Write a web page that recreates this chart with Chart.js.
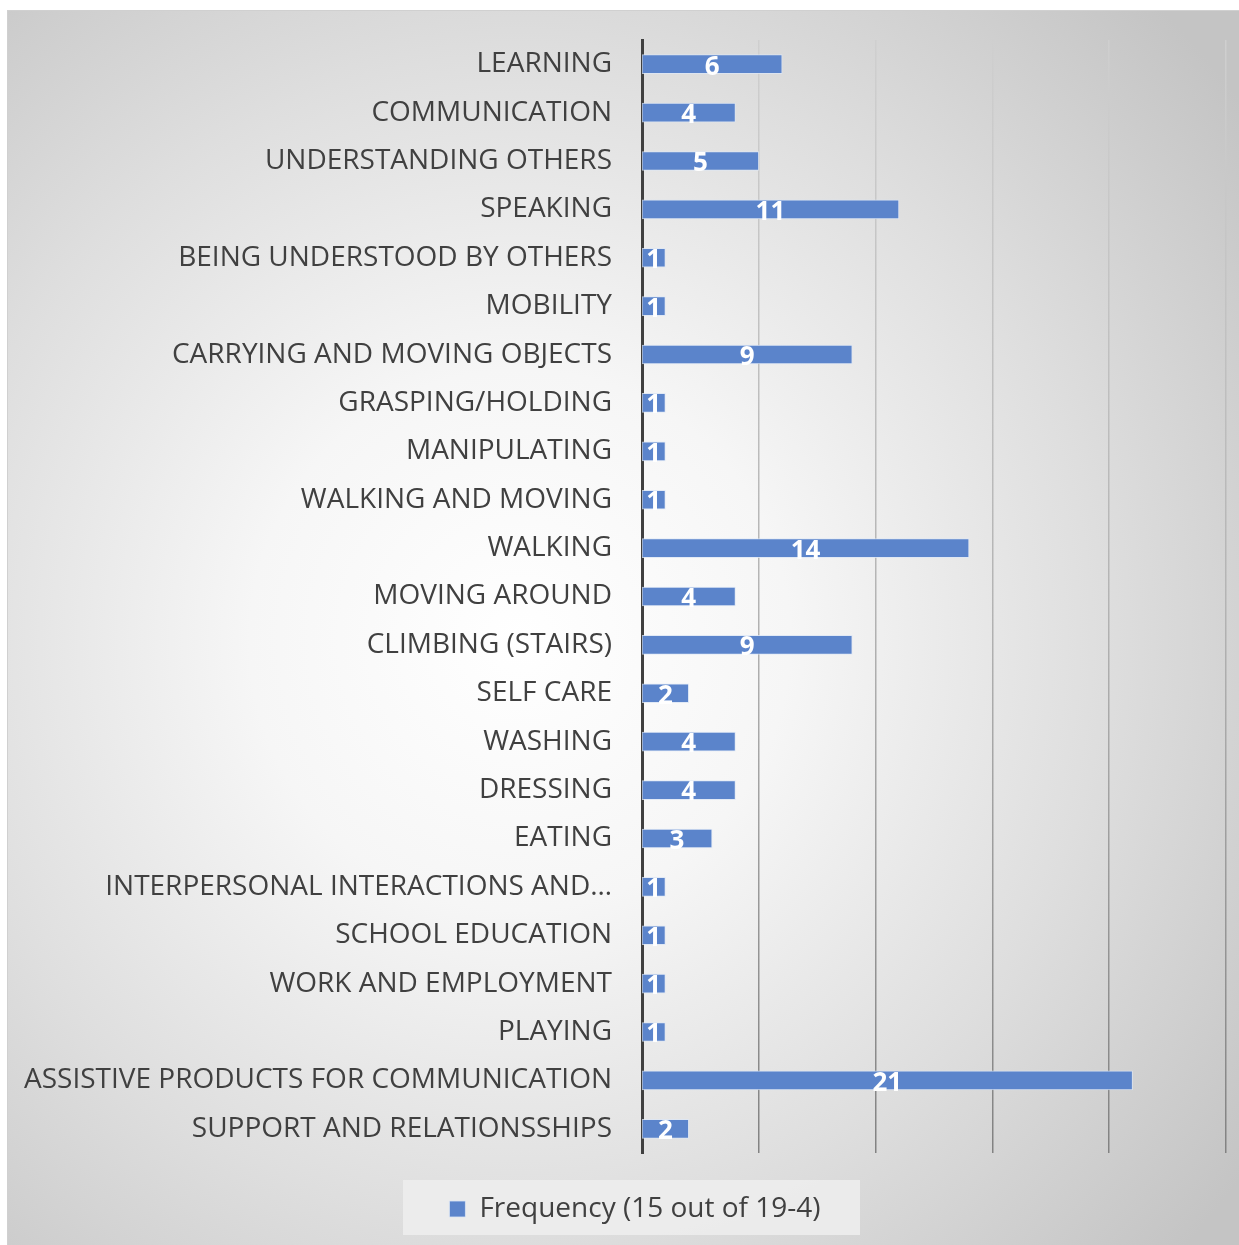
<!DOCTYPE html>
<html>
<head>
<meta charset="utf-8">
<script src="https://cdn.jsdelivr.net/npm/chart.js@4.4.1/dist/chart.umd.min.js"></script>
<style>
html,body{margin:0;padding:0;background:#fff;}
#wrap{width:1239px;height:1245px;position:relative;}
</style>
</head>
<body>
<div id="wrap"><canvas id="c" width="1239" height="1245"></canvas></div>
<script>
const categories = [
  "LEARNING","COMMUNICATION","UNDERSTANDING OTHERS","SPEAKING","BEING UNDERSTOOD BY OTHERS",
  "MOBILITY","CARRYING AND MOVING OBJECTS","GRASPING/HOLDING","MANIPULATING","WALKING AND MOVING",
  "WALKING","MOVING AROUND","CLIMBING (STAIRS)","SELF CARE","WASHING","DRESSING","EATING",
  "INTERPERSONAL INTERACTIONS AND\u2026","SCHOOL EDUCATION","WORK AND EMPLOYMENT","PLAYING",
  "ASSISTIVE PRODUCTS FOR COMMUNICATION","SUPPORT AND RELATIONSSHIPS"
];
const frequency = [6,4,5,11,1,1,9,1,1,1,14,4,9,2,4,4,3,1,1,1,1,21,2];
const seriesName = "Frequency (15 out of 19-4)";
const xMin = 0, xMax = 25, xStep = 5;

const FONT = "'Open Sans', 'DejaVu Sans', sans-serif";

const bgPlugin = {
  id: 'bg',
  afterLayout(chart) {
    if (chart.legend) { chart.legend.left += 22; chart.legend.right += 22; }
  },
  beforeDraw(chart) {
    const ctx = chart.ctx;
    ctx.save();
    ctx.fillStyle = '#ffffff';
    ctx.fillRect(0, 0, chart.width, chart.height);
    const x0 = 7, y0 = 10, w = chart.width - x0, h = chart.height - y0;
    const g = ctx.createRadialGradient(520, 640, 0, 520, 640, 900);
    g.addColorStop(0, '#ffffff');
    g.addColorStop(0.3, '#f6f6f6');
    g.addColorStop(0.65, '#dedede');
    g.addColorStop(1, '#c4c4c4');
    ctx.fillStyle = g;
    ctx.fillRect(x0, y0, w, h);
    ctx.fillStyle = '#d0d0d0';
    ctx.fillRect(x0, y0, w, 1);
    ctx.fillRect(x0, y0, 1, h);
    ctx.fillStyle = 'rgba(236,236,236,0.95)';
    ctx.fillRect(403, 1180, 457, 55);
    ctx.restore();
  }
};

const labelPlugin = {
  id: 'vals',
  afterDatasetsDraw(chart) {
    const ctx = chart.ctx;
    const meta = chart.getDatasetMeta(0);
    ctx.save();
    ctx.fillStyle = '#ffffff';
    ctx.font = "bold 26px " + FONT;
    ctx.textAlign = 'center';
    ctx.textBaseline = 'middle';
    meta.data.forEach((el, i) => {
      const cx = (el.x + el.base) / 2;
      ctx.fillText(String(frequency[i]), cx, el.y + 3);
    });
    ctx.restore();
  }
};

function gridColor(c) {
  const chart = c.chart;
  const area = chart.chartArea;
  if (!area) return '#aaaaaa';
  const g = chart.ctx.createLinearGradient(0, area.top, 0, area.bottom);
  g.addColorStop(0, '#cfcfcf');
  g.addColorStop(0.5, '#b4b4b4');
  g.addColorStop(1, '#828282');
  return g;
}

new Chart(document.getElementById('c'), {
  type: 'bar',
  data: {
    labels: categories,
    datasets: [{
      label: seriesName,
      data: frequency,
      backgroundColor: '#5b84cb',
      borderColor: 'rgba(220,230,245,0.8)',
      borderWidth: 1,
      borderSkipped: false,
      barThickness: 19
    }]
  },
  options: {
    indexAxis: 'y',
    responsive: false,
    animation: false,
    devicePixelRatio: 1,
    layout: { padding: { top: 40, right: 13, left: 0, bottom: 12 } },
    scales: {
      x: {
        min: xMin, max: xMax,
        ticks: { display: false, stepSize: xStep },
        grid: {
          display: true,
          drawTicks: false,
          lineWidth: (c) => c.index === 0 ? 0 : 1.5,
          color: gridColor
        },
        border: { display: false }
      },
      y: {
        afterFit(scale) { scale.width = 642; scale.paddingTop = 0; scale.paddingBottom = 0; },
        ticks: {
          color: '#404040',
          font: { family: FONT, size: 28 },
          padding: 30,
          autoSkip: false
        },
        grid: { display: false, drawTicks: false },
        border: { display: true, color: '#404040', width: 3 }
      }
    },
    plugins: {
      legend: {
        position: 'bottom',
        labels: {
          color: '#404040',
          font: { family: FONT, size: 28 },
          boxWidth: 16, boxHeight: 16,
          padding: 42
        }
      },
      tooltip: { enabled: false }
    }
  },
  plugins: [bgPlugin, labelPlugin]
});
</script>
</body>
</html>
